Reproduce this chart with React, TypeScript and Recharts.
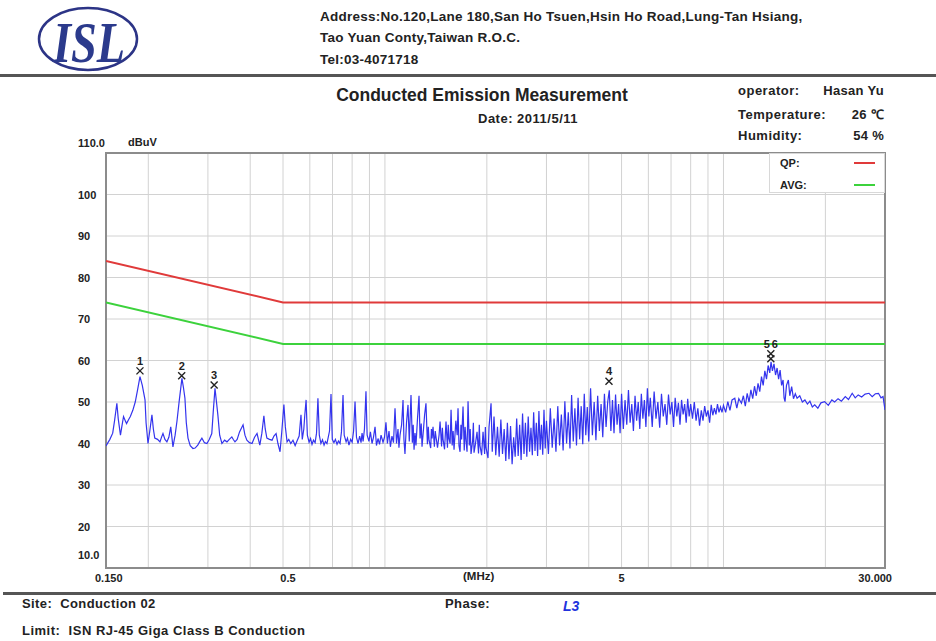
import React from 'react'
import {
  ComposedChart, Line, Scatter, XAxis, YAxis, CartesianGrid, Legend, ReferenceArea,
} from 'recharts'

const sans = '"Liberation Sans", Arial, sans-serif'

// axis ticks (MHz / dBuV)
const xTicks = [0.15, 0.2, 0.3, 0.4, 0.5, 0.6, 0.7, 0.8, 0.9, 1, 2, 3, 4, 5, 6, 7, 8, 9, 10, 20, 30]
const xLabels: Record<string, string> = { '0.15': '0.150', '0.5': '0.5', '5': '5', '30': '30.000' }
const yTicks = [10, 20, 30, 40, 50, 60, 70, 80, 90, 100, 110]

// limit lines
const limitFreq = [0.15, 0.5, 30]
const qpLevel = [84, 74, 74]
const avgLevel = [74, 64, 64]

// marked peaks
const markerFreq = [0.189, 0.251, 0.313, 4.59, 13.8, 13.8]
const markerLevel = [57.5, 56.3, 54.1, 55.0, 60.4, 61.6]
const markerName = ['1', '2', '3', '4', '5', '6']

// measured trace, [MHz, dBuV]
const trace: [number, number][] = [
  [0.150, 39.4], [0.152, 40.2], [0.154, 41.0], [0.157, 42.5], [0.159, 45.5], [0.1615, 49.7], [0.163, 46.0],
  [0.1655, 42.0], [0.167, 44.0], [0.169, 46.5], [0.171, 45.5], [0.1725, 44.8], [0.175, 45.8], [0.177, 46.5],
  [0.180, 48.0], [0.183, 50.0], [0.186, 53.0], [0.189, 56.1], [0.192, 54.0], [0.1956, 50.5], [0.197, 45.0],
  [0.1996, 40.0], [0.202, 43.0], [0.205, 46.9], [0.207, 43.5], [0.209, 41.3], [0.213, 41.0], [0.2165, 40.4],
  [0.219, 41.6], [0.221, 42.4], [0.224, 41.0], [0.227, 40.4], [0.230, 41.5], [0.233, 44.0], [0.2365, 39.2],
  [0.240, 42.0], [0.243, 45.3], [0.247, 50.5], [0.2514, 55.7], [0.254, 53.5], [0.2566, 50.9], [0.259, 45.0],
  [0.262, 41.3], [0.266, 39.5], [0.271, 38.8], [0.275, 38.9], [0.280, 39.6], [0.284, 40.5], [0.288, 41.3],
  [0.293, 40.2], [0.298, 40.0], [0.303, 41.0], [0.308, 42.4], [0.311, 47.5], [0.3148, 53.3], [0.318, 50.0],
  [0.321, 46.9], [0.325, 42.0], [0.330, 40.0], [0.336, 40.8], [0.3415, 40.4], [0.347, 41.0], [0.353, 41.6],
  [0.357, 40.9], [0.3606, 40.4], [0.366, 41.0], [0.372, 42.8], [0.381, 44.5], [0.386, 42.0], [0.391, 40.8],
  [0.398, 40.2], [0.405, 40.0], [0.412, 41.5], [0.419, 42.4], [0.423, 41.0], [0.427, 39.6], [0.433, 42.5],
  [0.439, 46.7], [0.443, 43.5], [0.448, 41.3], [0.456, 41.0], [0.464, 40.8], [0.470, 41.8], [0.477, 42.4],
  [0.483, 40.0], [0.490, 38.0], [0.496, 43.0], [0.503, 49.4], [0.508, 44.0], [0.514, 40.4],
  [0.520, 41.0], [0.527, 40.0], [0.535, 40.8], [0.543, 39.5], [0.550, 40.6], [0.558, 41.8], [0.565, 46.9],
  [0.570, 41.0], [0.576, 43.5], [0.580, 47.0], [0.585, 50.5], [0.590, 42.0], [0.597, 40.3], [0.603, 41.2],
  [0.609, 39.8], [0.615, 40.8], [0.622, 40.2], [0.628, 42.5], [0.634, 50.9], [0.640, 42.0], [0.647, 40.0],
  [0.654, 40.9], [0.661, 39.6], [0.667, 40.5], [0.674, 40.0], [0.680, 41.5], [0.686, 43.0], [0.693, 51.9],
  [0.699, 41.0], [0.707, 40.2], [0.714, 41.0], [0.722, 39.8], [0.729, 40.6], [0.737, 40.0], [0.744, 42.8],
  [0.752, 51.7], [0.758, 42.0], [0.768, 40.4], [0.775, 41.3], [0.783, 39.6], [0.792, 41.0], [0.800, 40.3],
  [0.808, 43.0], [0.816, 50.1], [0.824, 41.5], [0.833, 40.0], [0.842, 41.8], [0.850, 40.2], [0.856, 42.5],
  [0.862, 40.5], [0.870, 43.5], [0.879, 52.6], [0.886, 42.0], [0.897, 40.5], [0.906, 42.8], [0.916, 40.0],
  [0.925, 41.5], [0.935, 44.0], [0.944, 39.5], [0.954, 41.2], [0.964, 39.8], [0.974, 42.0], [0.987, 40.3],
  [0.997, 41.5], [1.007, 45.1], [1.017, 40.0], [1.028, 43.0], [1.038, 39.2], [1.049, 41.8], [1.060, 40.2],
  [1.071, 48.5], [1.082, 40.0], [1.093, 43.5], [1.100, 39.0], [1.108, 42.0], [1.120, 44.5], [1.131, 50.5],
  [1.138, 41.0], [1.146, 37.5], [1.158, 45.0], [1.170, 49.3], [1.180, 40.5], [1.194, 51.7], [1.205, 40.2],
  [1.212, 44.5], [1.219, 38.5], [1.227, 42.5], [1.235, 39.5], [1.248, 46.0], [1.261, 51.5], [1.270, 41.2],
  [1.280, 44.8], [1.287, 39.2], [1.300, 43.5], [1.310, 47.0], [1.322, 49.7], [1.335, 39.8], [1.343, 44.0],
  [1.350, 40.8], [1.365, 38.9], [1.372, 43.5], [1.378, 41.2], [1.387, 44.0], [1.400, 39.2], [1.408, 43.0],
  [1.416, 41.5], [1.430, 39.0], [1.445, 42.0], [1.455, 45.3], [1.470, 39.3], [1.478, 43.8], [1.485, 41.0],
  [1.500, 38.6], [1.515, 45.3], [1.530, 39.0], [1.538, 44.5], [1.546, 41.2], [1.558, 40.0], [1.568, 48.1],
  [1.580, 39.5], [1.590, 43.0], [1.600, 38.5], [1.620, 45.5], [1.635, 42.0], [1.644, 48.5], [1.655, 39.5],
  [1.667, 38.0], [1.677, 44.5], [1.685, 41.0], [1.701, 48.9], [1.715, 38.3], [1.725, 44.0], [1.736, 40.6],
  [1.748, 38.0], [1.760, 50.2], [1.775, 39.5], [1.786, 43.5], [1.796, 37.5], [1.815, 40.5], [1.825, 45.0],
  [1.833, 37.8], [1.850, 39.8], [1.871, 42.8], [1.890, 37.6], [1.900, 44.5], [1.909, 39.5], [1.930, 37.2],
  [1.949, 42.8], [1.970, 37.5], [1.980, 44.0], [1.989, 39.0], [2.016, 36.5], [2.030, 44.0], [2.058, 49.7],
  [2.075, 38.0], [2.100, 46.5], [2.125, 37.2], [2.150, 44.0], [2.175, 36.8], [2.200, 45.8], [2.225, 37.5],
  [2.250, 43.5], [2.275, 35.8], [2.300, 45.0], [2.325, 36.2], [2.350, 44.2], [2.375, 35.0], [2.400, 41.5],
  [2.425, 36.8], [2.450, 46.0], [2.475, 37.0], [2.500, 44.5], [2.525, 36.0], [2.550, 47.2], [2.575, 37.5],
  [2.600, 45.0], [2.625, 36.8], [2.650, 46.5], [2.675, 38.0], [2.700, 43.8], [2.725, 37.2], [2.750, 47.5],
  [2.775, 38.2], [2.800, 45.0], [2.825, 37.0], [2.850, 47.8], [2.875, 38.5], [2.900, 44.5], [2.925, 37.3],
  [2.950, 48.1], [2.975, 38.8], [3.000, 45.5],
  [3.04, 37.5], [3.08, 48.5], [3.12, 39.0], [3.16, 46.0], [3.20, 38.0], [3.24, 49.0], [3.28, 39.5],
  [3.32, 47.0], [3.36, 38.3], [3.40, 50.2], [3.44, 40.0], [3.48, 47.5], [3.52, 38.8], [3.56, 51.7],
  [3.60, 40.5], [3.64, 48.5], [3.68, 39.5], [3.72, 51.0], [3.76, 41.0], [3.80, 49.0], [3.84, 39.8],
  [3.88, 52.0], [3.92, 42.0], [3.96, 48.8], [4.00, 40.5],
  [4.05, 53.3], [4.10, 42.0], [4.15, 50.0], [4.20, 40.8], [4.25, 51.5], [4.30, 43.0], [4.35, 49.5],
  [4.40, 41.5], [4.45, 52.0], [4.50, 44.0], [4.55, 50.0], [4.60, 52.8], [4.65, 43.0], [4.70, 50.5],
  [4.75, 42.5], [4.80, 51.8], [4.85, 44.5], [4.90, 49.5], [4.95, 42.5], [5.00, 52.0],
  [5.06, 43.5], [5.12, 50.5], [5.18, 44.5], [5.24, 52.9], [5.30, 45.0], [5.36, 49.5], [5.42, 43.0],
  [5.48, 51.5], [5.54, 45.5], [5.60, 50.0], [5.66, 43.5], [5.72, 52.0], [5.78, 46.0], [5.84, 50.5],
  [5.90, 44.0], [5.96, 53.3], [6.02, 46.5],
  [6.08, 51.0], [6.16, 44.0], [6.24, 52.5], [6.32, 46.0], [6.40, 50.0], [6.48, 43.8], [6.56, 52.0],
  [6.64, 46.5], [6.72, 49.5], [6.80, 44.5], [6.88, 51.8], [6.96, 47.0], [7.04, 50.0], [7.12, 44.0],
  [7.20, 51.0], [7.28, 46.5], [7.36, 49.8], [7.44, 44.5], [7.52, 50.5], [7.60, 47.0], [7.68, 49.5],
  [7.76, 45.0], [7.84, 50.8], [7.92, 46.5], [8.00, 49.5],
  [8.1, 46.0], [8.2, 50.0], [8.3, 45.5], [8.4, 48.5], [8.5, 44.3], [8.6, 48.0], [8.7, 45.5],
  [8.8, 49.0], [8.9, 46.5], [9.0, 48.0], [9.1, 45.0], [9.2, 49.3], [9.3, 46.8], [9.4, 48.5],
  [9.5, 47.0], [9.6, 49.5], [9.7, 47.5], [9.8, 48.8], [9.9, 47.5], [10.0, 49.2],
  [10.15, 47.5], [10.3, 50.1], [10.45, 48.0], [10.6, 50.5], [10.8, 50.9], [10.95, 48.5], [11.1, 50.8],
  [11.3, 49.7], [11.45, 51.5], [11.6, 49.0], [11.75, 52.1], [11.9, 50.0], [12.05, 52.9], [12.2, 50.8],
  [12.35, 53.8], [12.5, 51.5], [12.65, 54.5], [12.8, 52.5], [12.95, 56.1], [13.1, 54.0], [13.25, 57.5],
  [13.4, 55.5], [13.55, 58.8], [13.7, 57.0], [13.82, 59.7], [13.95, 57.5], [14.1, 59.2], [14.25, 56.5],
  [14.4, 58.2], [14.55, 55.5], [14.7, 57.7], [14.85, 54.0], [15.0, 55.3], [15.1, 51.0], [15.2, 50.1],
  [15.35, 54.0], [15.55, 55.3], [15.7, 51.5], [15.9, 53.7], [16.1, 50.8], [16.3, 52.0], [16.5, 50.9],
  [16.8, 51.5], [17.1, 50.0], [17.4, 50.5], [17.7, 49.5], [18.0, 50.2], [18.3, 48.8], [18.6, 49.3],
  [19.0, 48.5], [19.4, 49.8], [19.9, 50.1], [20.4, 49.2], [20.9, 50.5], [21.3, 50.0], [21.8, 50.8],
  [22.3, 50.2], [22.9, 51.3], [23.4, 50.6], [24.0, 52.1], [24.5, 51.0], [25.0, 51.7], [25.6, 51.2],
  [26.2, 51.9], [26.9, 52.1], [27.5, 51.3], [28.1, 52.0], [28.7, 52.1], [29.2, 51.0], [29.6, 51.3],
  [30.0, 48.1],
]

const traceData = trace.map(([f, v]) => ({ f, v }))
const qpData = limitFreq.map((f, i) => ({ f, v: qpLevel[i] }))
const avgData = limitFreq.map((f, i) => ({ f, v: avgLevel[i] }))
const markerData = markerFreq.map((f, i) => ({ f, v: markerLevel[i], n: markerName[i] }))

const RED = '#e03a3a'
const GREEN = '#3cd23c'
const BLUE = '#3434ee'

function FreqTick({ x, payload }: any) {
  const v = payload.value
  const label = xLabels[String(v)]
  if (!label) return <g />
  const anchor = v === 0.15 ? 'start' : v === 30 ? 'end' : 'middle'
  const dx = v === 0.15 ? -11 : v === 30 ? 7 : v === 0.5 ? 5 : 0
  return (
    <text x={x + dx} y={582} textAnchor={anchor} fontSize={11} fontWeight="bold" fill="#222" fontFamily={sans}>
      {label}
    </text>
  )
}

function LevelTick({ y, payload }: any) {
  const v = payload.value
  const label = v === 110 ? '110.0' : v === 10 ? '10.0' : String(v)
  const dy = v === 110 ? -10 : v === 10 ? -13 : 0
  return (
    <text x={78} y={y + dy + 4} textAnchor="start" fontSize={11} fontWeight="bold" fill="#222" fontFamily={sans}>
      {label}
    </text>
  )
}

function PeakMark({ cx, cy, payload }: any) {
  // markers 5 and 6 share a frequency: put their numbers side by side above the upper cross
  const dx = payload.n === '5' ? -4 : payload.n === '6' ? 4 : 0
  const ty = payload.n === '5' ? cy - 11 : cy - 6
  return (
    <g>
      <path d={`M${cx - 3.5},${cy - 3.5}L${cx + 3.5},${cy + 3.5}M${cx + 3.5},${cy - 3.5}L${cx - 3.5},${cy + 3.5}`}
        stroke="#222" strokeWidth={1.4} />
      <text x={cx + dx} y={ty} textAnchor="middle" fontSize={11} fontWeight="bold" fill="#222" fontFamily={sans}>
        {payload.n}
      </text>
    </g>
  )
}

function LimitLegend() {
  const lbl = { position: 'absolute' as const, left: 10, fontSize: 11, fontWeight: 'bold' as const, color: '#222', lineHeight: '13px' }
  return (
    <div style={{ position: 'relative', width: 116, height: 40, background: '#fff', border: '1px solid #d8d8d8', boxSizing: 'border-box', fontFamily: sans }}>
      <span style={{ ...lbl, top: 3 }}>QP:</span>
      <span style={{ position: 'absolute', left: 84, top: 8, width: 21, height: 2, background: RED }} />
      <span style={{ ...lbl, top: 25 }}>AVG:</span>
      <span style={{ position: 'absolute', left: 84, top: 30, width: 21, height: 2, background: GREEN }} />
    </div>
  )
}

function Txt({ x, cy, size = 12, ls = 0, children, style }: any) {
  return (
    <div style={{
      position: 'absolute', left: x, top: cy - size * 0.6, fontSize: size, lineHeight: `${size * 1.2}px`,
      fontWeight: 'bold', color: '#222', whiteSpace: 'pre', fontFamily: sans, letterSpacing: ls, ...style,
    }}>{children}</div>
  )
}

export default function App() {
  return (
    <div style={{ position: 'absolute', left: 0, top: 0, width: 936, height: 641, background: '#fff', overflow: 'hidden' }}>
      <svg style={{ position: 'absolute', left: 36, top: 6 }} width={110} height={68}>
        <ellipse cx={52} cy={33} rx={49} ry={31} fill="none" stroke="#2c3486" strokeWidth={2.5} />
        <text x={17} y={56} textLength={72} lengthAdjust="spacingAndGlyphs" fontSize={58}
          fontFamily='"Liberation Serif", serif' fontWeight="bold" fontStyle="italic" fill="#2b3a8c">ISL</text>
      </svg>

      <Txt x={320} cy={17} size={13.5} ls={0.25}>Address:No.120,Lane 180,San Ho Tsuen,Hsin Ho Road,Lung-Tan Hsiang,</Txt>
      <Txt x={320} cy={38} size={13.5} ls={0.25}>Tao Yuan Conty,Taiwan R.O.C.</Txt>
      <Txt x={320} cy={60} size={13.5} ls={0.25}>Tel:03-4071718</Txt>
      <div style={{ position: 'absolute', left: 0, top: 74, width: 936, height: 3, background: '#555' }} />

      <Txt x={282} cy={95} size={17.5} style={{ width: 400, textAlign: 'center' }}>Conducted Emission Measurement</Txt>
      <Txt x={478} cy={119} size={13} ls={0.5}>Date: 2011/5/11</Txt>
      <Txt x={738} cy={91} size={13} ls={0.5}>operator:</Txt>
      <Txt x={774} cy={91} size={13} ls={0.3} style={{ width: 110, textAlign: 'right' }}>Hasan Yu</Txt>
      <Txt x={738} cy={115} size={13} ls={0.5}>Temperature:</Txt>
      <Txt x={774} cy={115} size={13} ls={0.3} style={{ width: 110, textAlign: 'right' }}>26 ℃</Txt>
      <Txt x={738} cy={136} size={13} ls={0.5}>Humidity:</Txt>
      <Txt x={774} cy={136} size={13} ls={0.3} style={{ width: 110, textAlign: 'right' }}>54 %</Txt>
      <Txt x={128} cy={143} size={11}>dBuV</Txt>

      <div style={{ position: 'absolute', left: 0, top: 0 }}>
        <ComposedChart width={936} height={641} margin={{ top: 153, right: 51, bottom: 53, left: 66 }}>
          <CartesianGrid stroke="#d2d2d2" strokeWidth={1} />
          <XAxis type="number" dataKey="f" scale="log" domain={[0.15, 30]} ticks={xTicks} interval={0}
            allowDataOverflow tick={<FreqTick />} tickLine={false} axisLine={false} height={20} />
          <YAxis type="number" domain={[10, 110]} ticks={yTicks} interval={0} allowDataOverflow
            tick={<LevelTick />} tickLine={false} axisLine={false} width={40} />
          <Legend layout="horizontal" verticalAlign="middle" align="center" content={() => <LimitLegend />}
            wrapperStyle={{ left: 769, top: 153, width: 116, height: 40 }} />
          <Line data={qpData} dataKey="v" name="QP" stroke={RED} strokeWidth={2} dot={false} isAnimationActive={false} />
          <Line data={avgData} dataKey="v" name="AVG" stroke={GREEN} strokeWidth={2} dot={false} isAnimationActive={false} />
          <Line data={traceData} dataKey="v" name="L3" stroke={BLUE} strokeWidth={1.2} dot={false} isAnimationActive={false} />
          <Scatter data={markerData} dataKey="v" shape={<PeakMark />} isAnimationActive={false} />
          <ReferenceArea x1={0.15} x2={30} y1={10} y2={110} fill="none" stroke="#8c8c8c" strokeWidth={2} />
        </ComposedChart>
      </div>

      <Txt x={463} cy={577} size={11.5}>(MHz)</Txt>
      <div style={{ position: 'absolute', left: 3, top: 592, width: 933, height: 3, background: '#555' }} />
      <Txt x={22} cy={604} size={13} ls={0.4}>Site:  Conduction 02</Txt>
      <Txt x={445} cy={604} size={13} ls={0.4}>Phase:</Txt>
      <Txt x={563} cy={606} size={14} style={{ color: '#2233dd', fontStyle: 'italic' }}>L3</Txt>
      <Txt x={22} cy={631} size={13} ls={0.5}>Limit:  ISN RJ-45 Giga Class B Conduction</Txt>
    </div>
  )
}
